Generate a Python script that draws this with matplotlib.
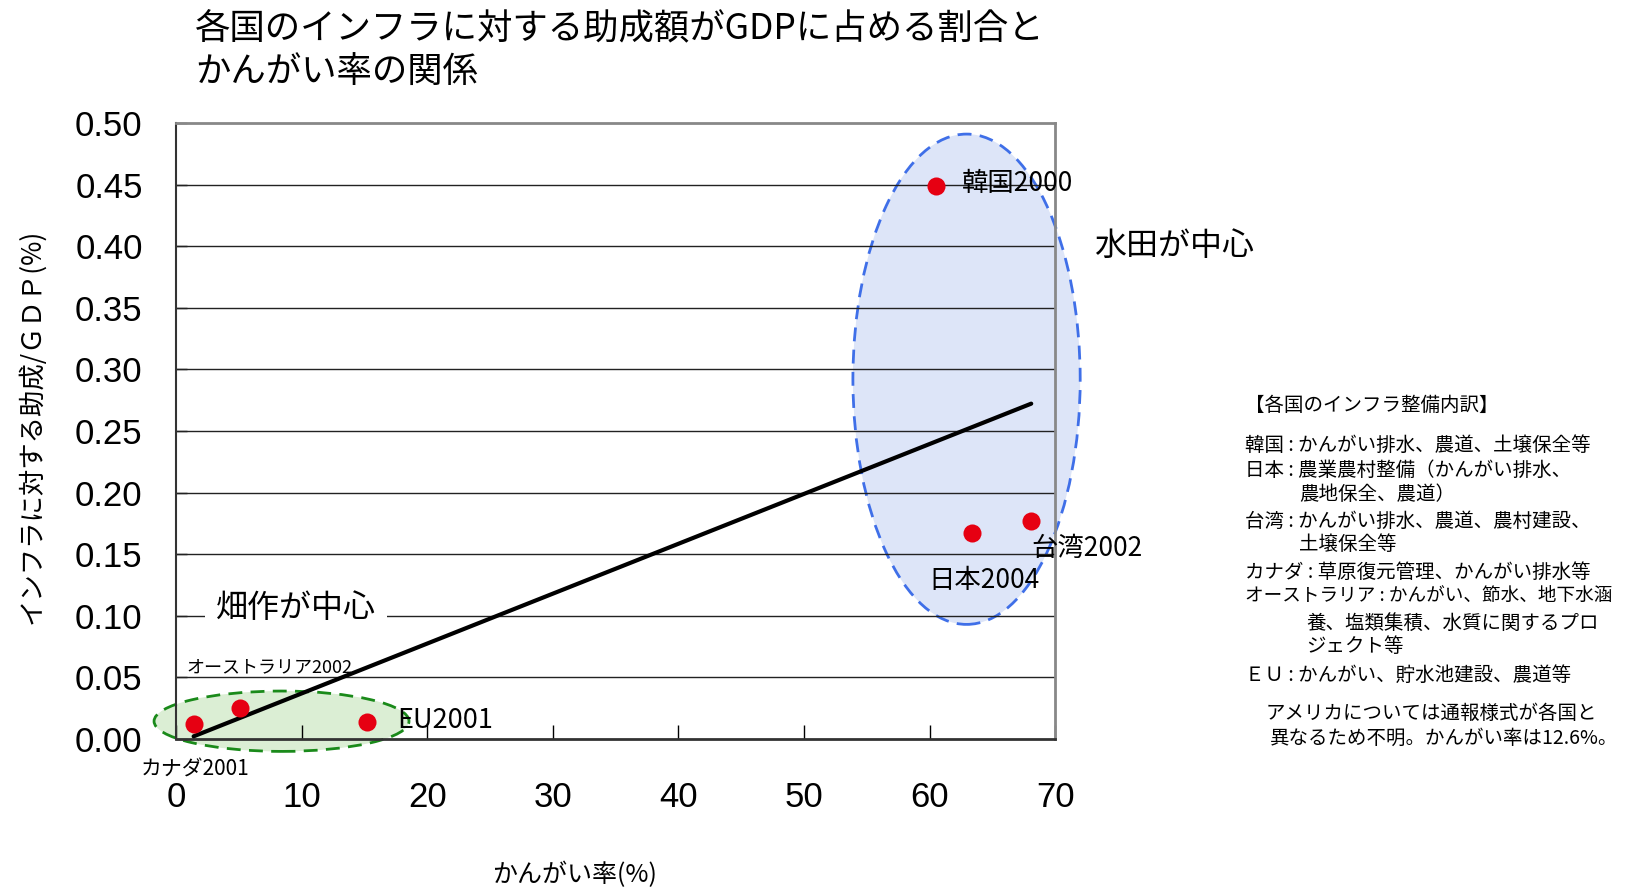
import numpy as np
import matplotlib
matplotlib.use("Agg")
from matplotlib import pyplot as plt
from matplotlib import font_manager
from matplotlib.patches import Ellipse

# fonts: japanese text in Noto CJK, numbers in a narrow sans if we have one
jp = ['Noto Sans CJK JP', 'DejaVu Sans']
names = set(f.name for f in font_manager.fontManager.ttflist)
num_font = 'Liberation Sans Narrow' if 'Liberation Sans Narrow' in names else 'Liberation Sans'
plt.rcParams['font.family'] = jp

# data
countries = ["カナダ2001", "オーストラリア2002", "EU2001", "韓国2000", "日本2004", "台湾2002"]
irrigation_rate = [1.4, 5.1, 15.2, 60.5, 63.4, 68.1]      # かんがい率(%)
subsidy_gdp = [0.012, 0.025, 0.014, 0.449, 0.167, 0.177]  # 助成/GDP(%)

x_ticks = [0, 10, 20, 30, 40, 50, 60, 70]
y_ticks = [0.00, 0.05, 0.10, 0.15, 0.20, 0.25, 0.30, 0.35, 0.40, 0.45, 0.50]

note_title = "【各国のインフラ整備内訳】"
note_lines = ["韓国 : かんがい排水、農道、土壌保全等",
              "日本 : 農業農村整備（かんがい排水、",
              "農地保全、農道）",
              "台湾 : かんがい排水、農道、農村建設、",
              "土壌保全等",
              "カナダ : 草原復元管理、かんがい排水等",
              "オーストラリア : かんがい、節水、地下水涵",
              "養、塩類集積、水質に関するプロ",
              "ジェクト等",
              "ＥＵ : かんがい、貯水池建設、農道等"]
usa_note = ["アメリカについては通報様式が各国と", "異なるため不明。かんがい率は12.6%。"]

fig = plt.figure(figsize=(16.33, 8.90), dpi=100)
ax = fig.add_axes([0.1078, 0.1697, 0.5383, 0.6921])

# ellipses behind everything
ax.add_patch(Ellipse((8.4, 0.0144), 20.3, 0.049, facecolor='#dbeed4', edgecolor='#1a8a1a',
                     linestyle=(0, (5, 3)), linewidth=2, clip_on=False, zorder=1))
ax.add_patch(Ellipse((62.95, 0.292), 18.1, 0.398, facecolor='#dde5f8', edgecolor='#3f6fe8',
                     linestyle=(0, (5, 3)), linewidth=2, clip_on=False, zorder=1))

for yt in y_ticks[1:-1]:
    ax.axhline(yt, color='#222222', linewidth=1, zorder=2)

# linear trendline over the data range
k, b = np.polyfit(irrigation_rate, subsidy_gdp, 1)
xs = np.array([min(irrigation_rate), max(irrigation_rate)])
ax.plot(xs, k * xs + b, color='black', linewidth=3, solid_capstyle='round', zorder=4)

ax.plot(irrigation_rate, subsidy_gdp, 'o', color='#e60012', markersize=13,
        markeredgewidth=0, zorder=5)

# point labels
label_pos = [(-2.8, -0.025), (0.8, 0.058), (17.6, 0.015), (62.6, 0.451), (59.9, 0.129), (68.1, 0.155)]
label_size = [15, 13, 19.5, 19, 19, 19]
for name, (lx, ly), fs in zip(countries, label_pos, label_size):
    ax.text(lx, ly, name, fontsize=fs, va='center', ha='left', clip_on=False, zorder=6)

ax.text(3.2, 0.106, "畑作が中心", fontsize=23, va='center', ha='left', zorder=6,
        bbox=dict(facecolor='white', edgecolor='none', pad=8))
ax.text(73.1, 0.40, "水田が中心", fontsize=23, va='center', ha='left', clip_on=False)

ax.set_xlim(0, 70)
ax.set_ylim(0, 0.5)
ax.set_xticks(x_ticks)
ax.set_yticks(y_ticks)
ax.set_xticklabels([str(v) for v in x_ticks], family=num_font, fontsize=25)
ax.set_yticklabels(["%.2f" % v for v in y_ticks], family=num_font, fontsize=25)
ax.tick_params(axis='x', direction='in', length=10, width=1, pad=30, colors='black')
ax.tick_params(axis='y', direction='in', length=8, width=1, pad=24)

for side in ['top', 'right']:
    ax.spines[side].set_color('#888888')
    ax.spines[side].set_linewidth(2)
ax.spines['left'].set_color('#333333')
ax.spines['left'].set_linewidth(1.5)
ax.spines['bottom'].set_color('#333333')
ax.spines['bottom'].set_linewidth(2)

fig.text(0.0196, 0.521, "インフラに対する助成/ＧＤＰ(%)", rotation=90, fontsize=19,
         va='center', ha='center')
fig.text(0.3515, 0.017, "かんがい率(%)", fontsize=18, va='center', ha='center')

fig.text(0.1194, 0.968, "各国のインフラに対する助成額がGDPに占める割合と", fontsize=25.5,
         va='center', ha='left')
fig.text(0.1194, 0.918, "かんがい率の関係", fontsize=25.5, va='center', ha='left')

# breakdown notes at the right
W, H = 1633.0, 890.0
fig.text(1245 / W, 1 - 405 / H, note_title, fontsize=14, va='center', ha='left')
note_y = [445, 470, 494, 521, 545, 572, 597, 623, 647, 675]
note_x = [1245, 1245, 1299, 1245, 1299, 1245, 1245, 1306, 1306, 1245]
note_fs = [14, 14, 14, 14, 14, 14, 13.4, 14, 14, 14]
for line, yy, xx, fs in zip(note_lines, note_y, note_x, note_fs):
    fig.text(xx / W, 1 - yy / H, line, fontsize=fs, va='center', ha='left')
fig.text(1266 / W, 1 - 713 / H, usa_note[0], fontsize=14, va='center', ha='left')
fig.text(1270 / W, 1 - 738 / H, usa_note[1], fontsize=14, va='center', ha='left')

fig.savefig("out.png", dpi=100)
